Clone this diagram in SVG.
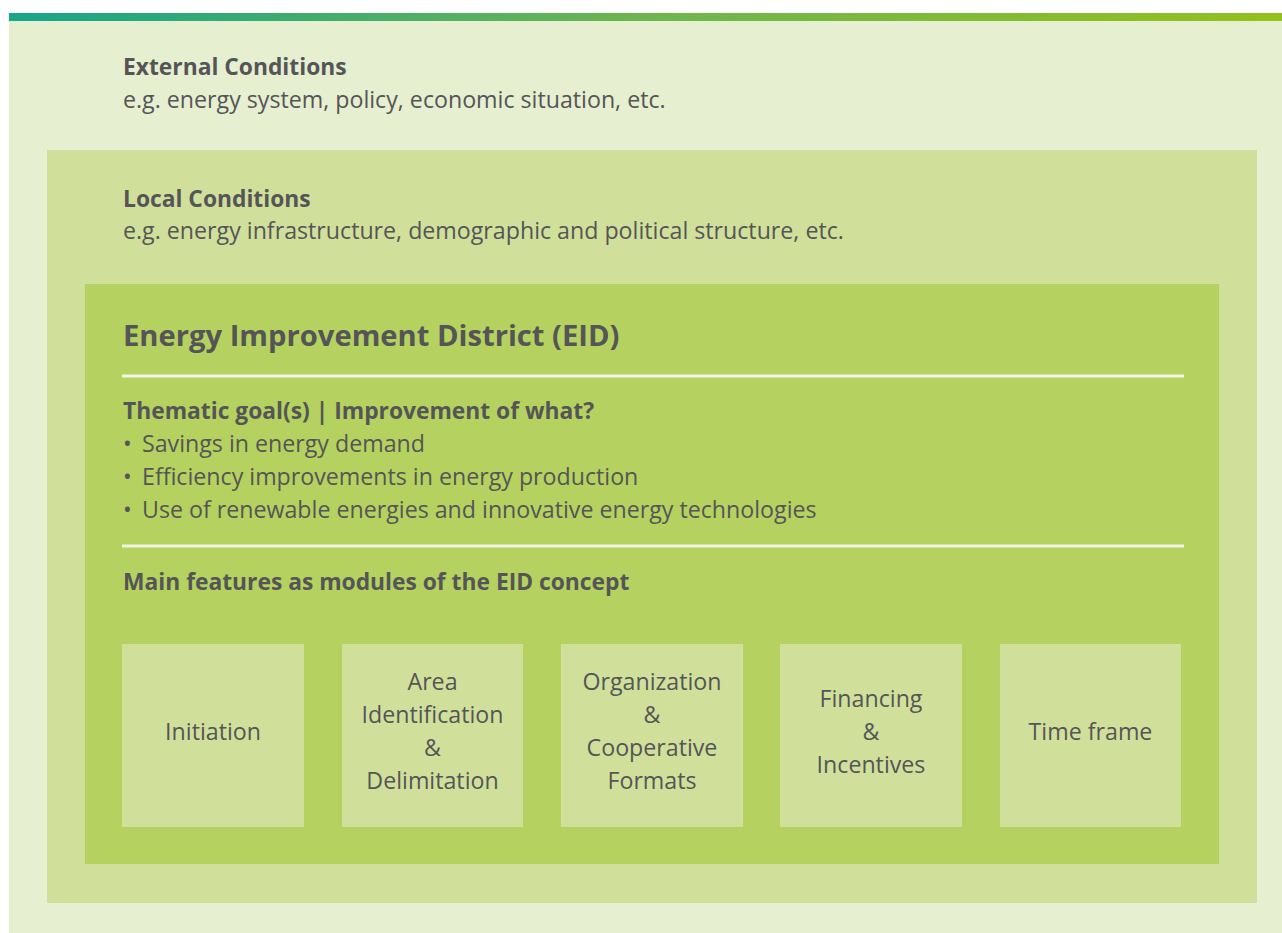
<svg xmlns="http://www.w3.org/2000/svg" width="1282" height="933" viewBox="0 0 1282 933">
<defs>
<linearGradient id="bar" x1="0" y1="0" x2="1" y2="0">
<stop offset="0" stop-color="#17a58a"/>
<stop offset="0.5" stop-color="#6db54f"/>
<stop offset="1" stop-color="#93c11c"/>
</linearGradient>
<style>
text{font-family:"Open Sans","Noto Sans","Liberation Sans",sans-serif;fill:#555557}
.b{font-weight:700}
.h{font-size:22.8px}
.s{font-size:23.2px}
.m{font-size:23.2px;text-anchor:middle}
.mod{fill:#d0e09b}
.sep{stroke:#f2f6e4;stroke-width:3}
</style>
</defs>
<rect width="1282" height="933" fill="#ffffff"/>
<rect x="9" y="13" width="1273" height="920" fill="#e6efd0"/>
<rect x="9" y="13" width="1273" height="8" fill="url(#bar)"/>
<g id="external">
<text class="b h" x="123" y="75">External Conditions</text>
<text class="s" x="123" y="108">e.g. energy system, policy, economic situation, etc.</text>
</g>
<g id="local">
<rect x="47" y="150" width="1210" height="753" fill="#d0e09b"/>
<text class="b h" x="123" y="207">Local Conditions</text>
<text class="s" x="123" y="239">e.g. energy infrastructure, demographic and political structure, etc.</text>
</g>
<g id="eid">
<rect x="85" y="284" width="1134" height="580" fill="#b5d15f"/>
<text class="b" x="123" y="346" font-size="29.2">Energy Improvement District (EID)</text>
<line class="sep" x1="122" y1="376" x2="1184" y2="376"/>
<text class="b h" x="123" y="419">Thematic goal(s) | Improvement of what?</text>
<text class="s" x="123" y="452">•</text>
<text class="s" x="142" y="452">Savings in energy demand</text>
<text class="s" x="123" y="485">•</text>
<text class="s" x="142" y="485">Efficiency improvements in energy production</text>
<text class="s" x="123" y="518">•</text>
<text class="s" x="142" y="518">Use of renewable energies and innovative energy technologies</text>
<line class="sep" x1="122" y1="546" x2="1184" y2="546"/>
<text class="b h" x="123" y="590">Main features as modules of the EID concept</text>
</g>
<g id="m1">
<rect class="mod" x="122" y="644" width="182" height="183"/>
<text class="m" x="213" y="740">Initiation</text>
</g>
<g id="m2">
<rect class="mod" x="342" y="644" width="181" height="183"/>
<text class="m" x="432.5" y="690">Area</text>
<text class="m" x="432.5" y="723">Identification</text>
<text class="m" x="432.5" y="756">&amp;</text>
<text class="m" x="432.5" y="789">Delimitation</text>
</g>
<g id="m3">
<rect class="mod" x="561" y="644" width="182" height="183"/>
<text class="m" x="652" y="690">Organization</text>
<text class="m" x="652" y="723">&amp;</text>
<text class="m" x="652" y="756">Cooperative</text>
<text class="m" x="652" y="789">Formats</text>
</g>
<g id="m4">
<rect class="mod" x="780" y="644" width="182" height="183"/>
<text class="m" x="871" y="707">Financing</text>
<text class="m" x="871" y="740">&amp;</text>
<text class="m" x="871" y="773">Incentives</text>
</g>
<g id="m5">
<rect class="mod" x="1000" y="644" width="181" height="183"/>
<text class="m" x="1090.5" y="740">Time frame</text>
</g>
<g id="connectors"></g>
</svg>
